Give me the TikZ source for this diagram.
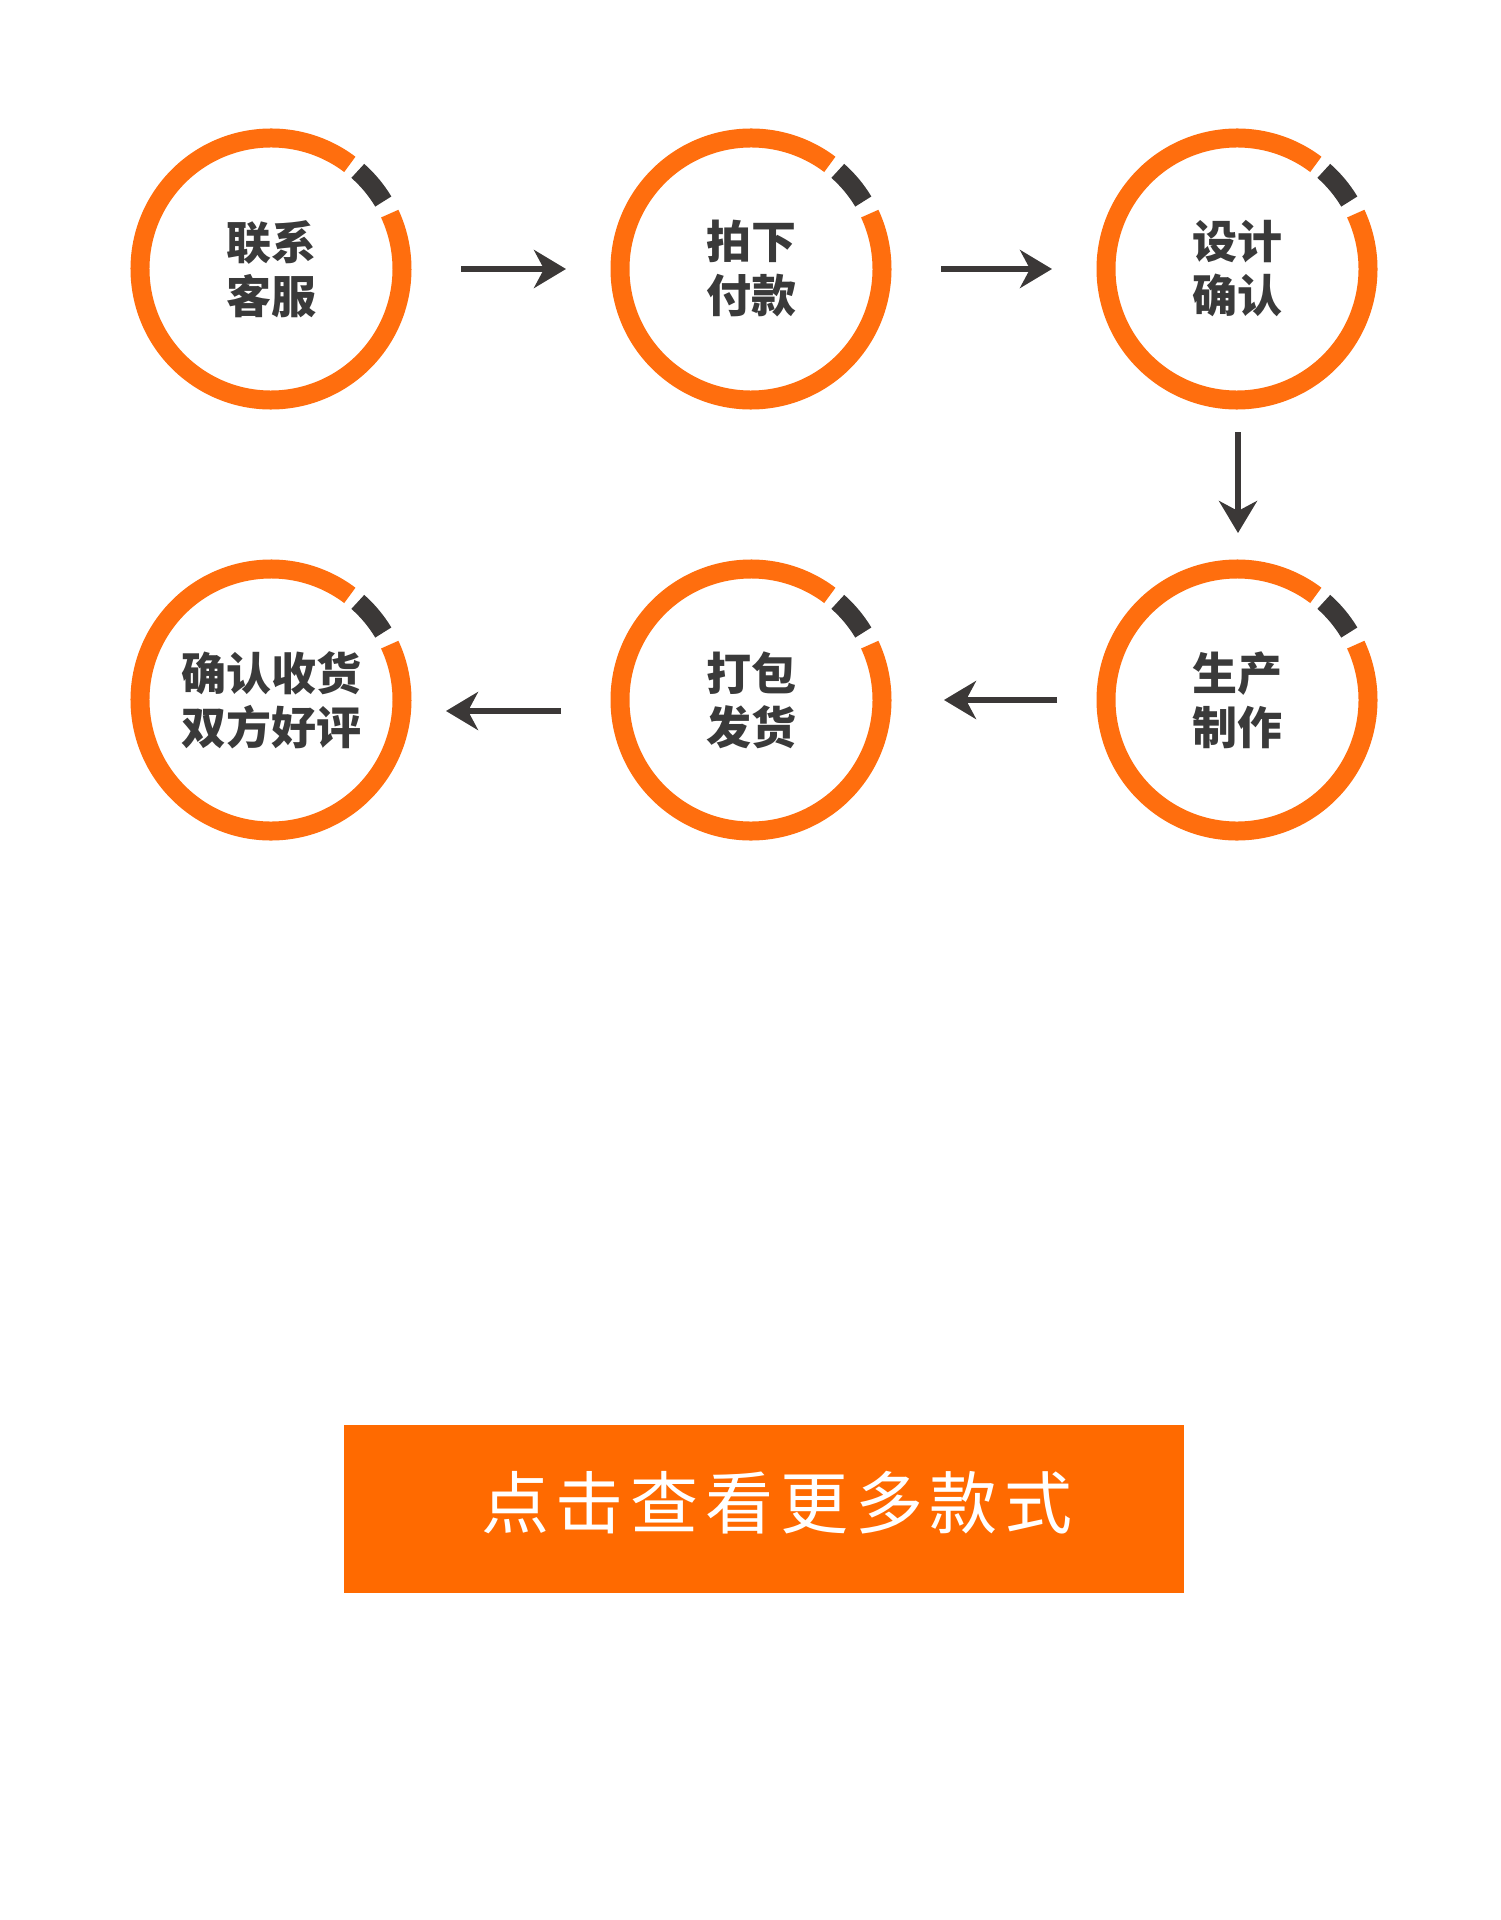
\documentclass[tikz,border=0pt]{standalone}
\usepackage{fontspec}
\newfontfamily\cjk{Noto Sans CJK SC}
\newfontfamily\cjkbtn[LetterSpace=10]{Noto Sans CJK SC}
\usetikzlibrary{arrows.meta,calc}
\definecolor{ringorange}{HTML}{FF6E0E}
\definecolor{btnorange}{HTML}{FF6A00}
\definecolor{darkgray}{HTML}{3B3837}
\definecolor{textgray}{HTML}{3A3A3A}
\tikzset{
  stepnode/.style={circle, minimum size=141pt, inner sep=0pt, outer sep=0pt},
  steptext/.style={font=\cjk\bfseries\fontsize{22.5pt}{27pt}\selectfont, text=textgray, align=center, inner sep=0pt},
  ringarc/.style={draw=ringorange, line width=9.5pt},
  markarc/.style={draw=darkgray, line width=9.5pt},
  flow/.style={draw=darkgray, line width=2.6pt, -{Stealth[length=16pt,width=19pt,inset=5pt]}},
}
\newcommand{\stepring}[1]{%
  \draw[ringarc] ($(#1)+(53:65.5pt)$) arc[start angle=53, end angle=385, radius=65.5pt];
  \draw[markarc] ($(#1)+(31:65.5pt)$) arc[start angle=31, end angle=48.5, radius=65.5pt];
}
\begin{document}
\begin{tikzpicture}[x=0.5pt,y=0.5pt]
\fill[white] (0,0) rectangle (1500,-1920);
\useasboundingbox (0,0) rectangle (1500,-1920);

\node[stepnode] (c1) at (271,-269) {};
\node[stepnode] (c2) at (751,-269) {};
\node[stepnode] (c3) at (1237,-269) {};
\node[stepnode] (c4) at (1237,-700) {};
\node[stepnode] (c5) at (751,-700) {};
\node[stepnode] (c6) at (271,-700) {};

\foreach \c in {c1,c2,c3,c4,c5,c6} {\stepring{\c}}

\node[steptext] (t1) at (c1) {联系\\客服};
\node[steptext] (t2) at (c2) {拍下\\付款};
\node[steptext] (t3) at (c3) {设计\\确认};
\node[steptext] (t4) at (c4) {生产\\制作};
\node[steptext] (t5) at (c5) {打包\\发货};
\node[steptext] (t6) at (c6) {确认收货\\双方好评};

\draw[flow] ($(c1.east)+(49,0)$) -- ($(c2.west)+(-44,0)$);
\draw[flow] ($(c2.east)+(49,0)$) -- ($(c3.west)+(-44,0)$);
\draw[flow] ($(c3.south)+(1,-22)$) -- ($(c4.north)+(1,26)$);
\draw[flow] ($(c4.west)+(-39,0)$) -- ($(c5.east)+(52,0)$);
\draw[flow] ($(c5.west)+(-49,-11)$) -- ($(c6.east)+(34,-11)$);

\node[rectangle, fill=btnorange, minimum width=420pt, minimum height=84pt, inner sep=0pt] (btn) at (764,-1509) {};
\node[font=\cjkbtn\fontsize{34pt}{40pt}\selectfont, text=white, inner sep=0pt] (btntext) at ($(btn)+(13,6)$) {点击查看更多款式};
\end{tikzpicture}
\end{document}
